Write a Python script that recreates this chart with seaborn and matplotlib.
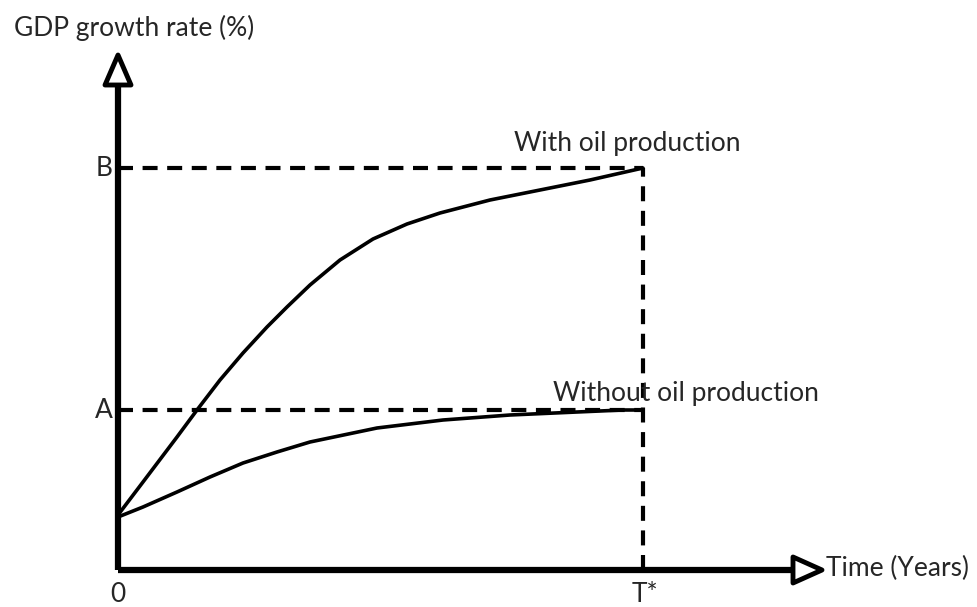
import numpy as np
import pandas as pd
import matplotlib.pyplot as plt
from matplotlib.patches import Polygon
import seaborn as sns

# values (origin at the axes corner, pixel-like units)
time_with = [0, 25, 59, 79, 102, 125, 149, 169, 192, 222, 255, 289, 322, 372, 422, 472, 525]
gdp_with = [55, 88, 133, 160, 190, 217, 243, 263, 285, 310, 331, 346, 357, 370, 380, 390, 402]
time_without = [0, 25, 59, 92, 125, 159, 192, 259, 325, 392, 459, 505, 525]
gdp_without = [53, 63, 78, 93, 107, 118, 128, 142, 150, 155, 158, 160, 160]
level_a = 160
level_b = 402
t_star = 525
curve_labels = ["With oil production", "Without oil production"]

df = pd.concat([
    pd.DataFrame({"time": time_with, "gdp": gdp_with, "case": curve_labels[0]}),
    pd.DataFrame({"time": time_without, "gdp": gdp_without, "case": curve_labels[1]}),
])

sns.set_style("white")
plt.rcParams["font.family"] = ["Lato", "DejaVu Sans"]

fig = plt.figure(figsize=(9.78, 6.07), dpi=100)
ax = fig.add_axes([0, 0, 1, 1])
ax.set_xlim(-118, 978 - 118)
ax.set_ylim(570 - 607, 570)
ax.axis("off")

# the two growth paths
sns.lineplot(data=df, x="time", y="gdp", units="case", estimator=None,
             color="black", lw=2.6, ax=ax, sort=False)

# dashed guides
dash = dict(color="black", lw=3, dashes=(3.6, 2.3))
ax.plot([0, t_star], [level_b, level_b], **dash)
ax.plot([0, t_star], [level_a, level_a], **dash)
ax.plot([t_star, t_star], [0, level_b], **dash)

# axes with open arrowheads
ax.plot([0, 0], [0, 485], color="black", lw=4.5, solid_capstyle="butt")
ax.plot([0, 675], [0, 0], color="black", lw=4.5, solid_capstyle="butt")
ax.add_patch(Polygon([[-13, 485], [13, 485], [0, 515]], closed=True,
                     facecolor="white", edgecolor="black", lw=3.5, joinstyle="round"))
ax.add_patch(Polygon([[675, 13], [675, -13], [704, 0]], closed=True,
                     facecolor="white", edgecolor="black", lw=3.5, joinstyle="round"))

fs = 19
ax.text(-104, 542, "GDP growth rate (%)", fontsize=fs, va="center", ha="left")
ax.text(708, 2, "Time (Years)", fontsize=fs, va="center", ha="left")
ax.text(0, -25, "0", fontsize=fs, va="center", ha="center")
ax.text(527, -25, "T*", fontsize=fs, va="center", ha="center")
ax.text(-5, level_a, "A", fontsize=fs, va="center", ha="right")
ax.text(-5, level_b, "B", fontsize=fs, va="center", ha="right")
ax.text(396, 427, curve_labels[0], fontsize=fs, va="center", ha="left")
ax.text(435, 177, curve_labels[1], fontsize=fs, va="center", ha="left")

fig.savefig("out.png", dpi=100)
